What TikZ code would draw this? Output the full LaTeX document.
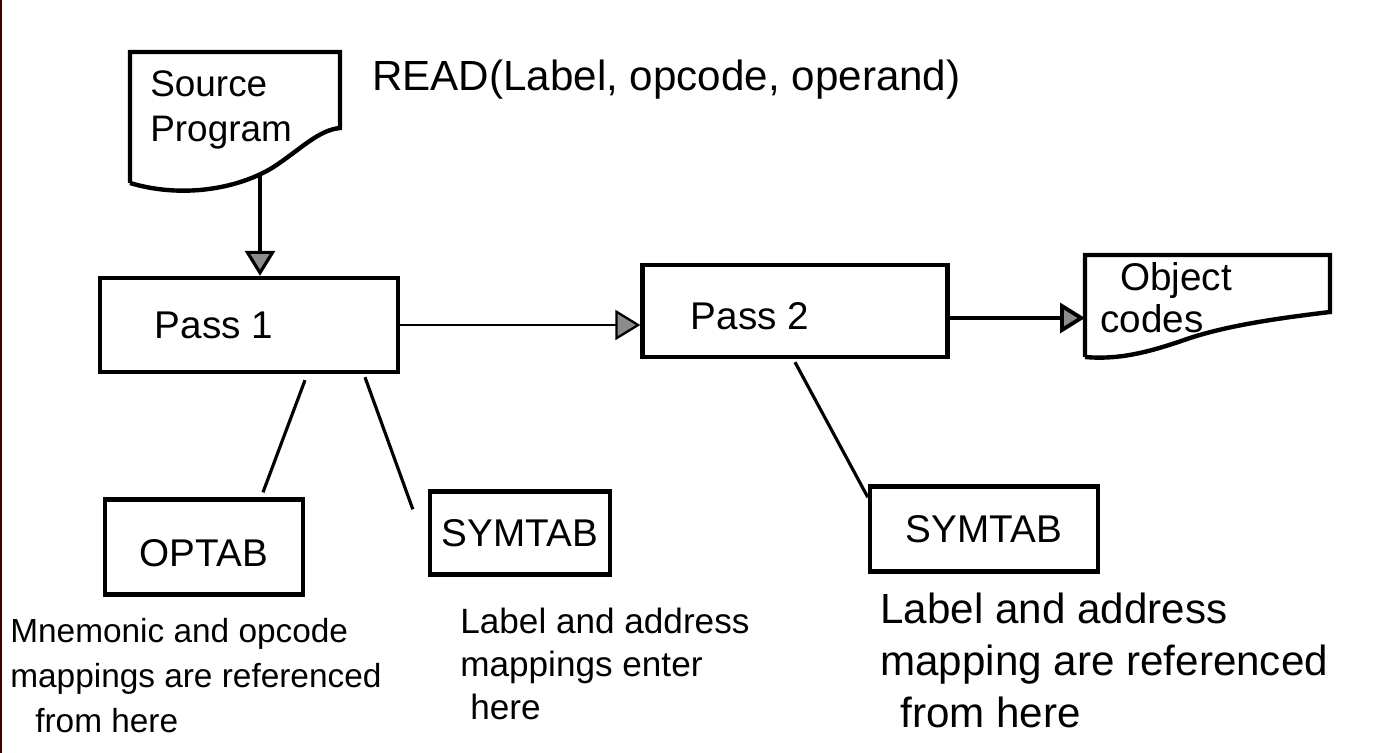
\documentclass[tikz,border=0pt]{standalone}
\usepackage{fontspec}
\setmainfont{Liberation Sans}
\usetikzlibrary{arrows.meta, positioning}
\definecolor{tipgray}{rgb}{0.55, 0.55, 0.55}

\begin{document}
\begin{tikzpicture}[x=0.02cm, y=-0.02cm,
	box/.style={draw, line width=2.5pt, inner sep=0pt, font=\fontsize{22}{24}\selectfont},
	link/.style={line width=1.8pt},
	arr/.style={line width=1.8pt, -{Triangle[length=0.5cm, width=0.6cm, fill=tipgray]}},
	note/.style={anchor=north west, align=left, inner sep=0pt}]

\useasboundingbox (0,0) rectangle (1374,753);
\draw[line width=1.5pt, red!25!black] (1,0) -- (1,753);

% source program (document shape)
\draw[line width=2.5pt] (130,183) -- (130,52) -- (340,52) -- (340,128)
	.. controls (318,130) and (300,150) .. (272,168)
	.. controls (235,190) and (180,198) .. (130,183);
\node[note, font=\fontsize{21}{26}\selectfont] (src) at (150,70) {Source\\Program};
\coordinate (srcout) at (260,174);

\node[anchor=west, font=\fontsize{24}{28}\selectfont] (read) at (366,80) {READ(Label, opcode, operand)};

% passes
\node[box, minimum width=5.96cm, minimum height=1.88cm,
	label={[xshift=-0.7cm, font=\fontsize{22}{24}\selectfont]center:Pass 1}] (pass1) at (249,325) {};
\node[box, minimum width=6.1cm, minimum height=1.84cm,
	label={[xshift=-0.9cm, yshift=-0.1cm, font=\fontsize{22}{24}\selectfont]center:Pass 2}] (pass2) at (795,311) {};

% object codes (document shape)
\draw[line width=2.5pt] (1085,357) -- (1085,255) -- (1330,255) -- (1330,312)
	.. controls (1280,318) and (1230,325) .. (1190,338)
	.. controls (1150,352) and (1120,360) .. (1085,357);
\node[note, font=\fontsize{22}{24}\selectfont] (obj) at (1100,262) {\hspace{0.4cm}Object\\codes};
\coordinate (objin) at (1085,318);

% tables
\node[box, minimum width=3.96cm, minimum height=1.9cm,
	label={[yshift=-0.12cm, font=\fontsize{22}{24}\selectfont]center:OPTAB}] (optab) at (204,547) {};
\node[box, minimum width=3.6cm, minimum height=1.66cm] (symtab) at (520,533) {SYMTAB};
\node[box, minimum width=4.56cm, minimum height=1.7cm] (symtabb) at (984,529) {SYMTAB};

% connectors
\draw[arr] (srcout) -- (srcout |- pass1.north);
\draw[arr, line width=1.3pt] (pass1.east) -- (pass1.east -| pass2.west);
\draw[arr, line width=2.2pt] ([yshift=-0.14cm]pass2.east) -- (objin);
\draw[link] ([xshift=1.12cm, yshift=-0.12cm]pass1.south) -- ([xshift=1.18cm, yshift=0.1cm]optab.north);
\draw[link] ([xshift=2.32cm, yshift=-0.06cm]pass1.south) -- ([xshift=-0.3cm, yshift=-0.4cm]symtab.north west);
\draw[link] ([yshift=-0.06cm]pass2.south) -- ([yshift=-0.26cm]symtabb.north west);

% notes
\node[note, font=\fontsize{19}{25.5}\selectfont] (noteop) at (10,618)
	{Mnemonic and opcode\\mappings are referenced\\\hspace{0.5cm}from here};
\node[note, font=\fontsize{20}{24.5}\selectfont] (notesyma) at (460,608)
	{Label and address\\mappings enter\\\hspace{0.2cm}here};
\node[note, font=\fontsize{24}{29.5}\selectfont] (notesymb) at (880,593)
	{Label and address\\mapping are referenced\\\hspace{0.4cm}from here};

\end{tikzpicture}
\end{document}
